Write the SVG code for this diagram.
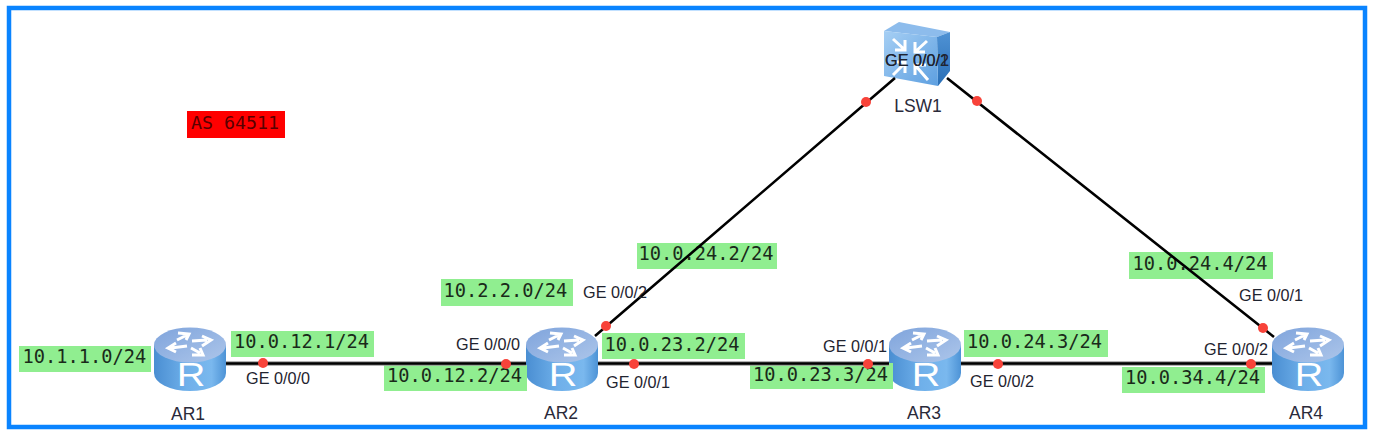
<svg xmlns="http://www.w3.org/2000/svg" width="1376" height="435" viewBox="0 0 1376 435">
<style>
.ip{fill:#90ee90}
.ipt{font-family:"DejaVu Sans Mono",monospace;font-size:18.7px;fill:#1a2a1a;text-anchor:middle}
.port{font-family:"Liberation Sans",Arial,sans-serif;font-size:16.2px;fill:#1f2430;text-anchor:middle}
.name{font-family:"Liberation Sans",Arial,sans-serif;font-size:17.5px;fill:#2a2a3a;text-anchor:middle}
.rl{font-family:"Liberation Sans",Arial,sans-serif;font-size:33px;fill:#fff;text-anchor:middle}
.link{stroke:#000;stroke-width:2.6;fill:none}
.halo{stroke:#999;stroke-width:4.6;fill:none}
.dot{fill:#f8433a}
.ar{fill:none;stroke:#fff;stroke-width:3;stroke-linejoin:miter}
</style>
<defs>
<linearGradient id="side" x1="0" x2="1" y1="0" y2="0"><stop offset="0" stop-color="#4a8ed2"/><stop offset=".45" stop-color="#6fb0ea"/><stop offset=".8" stop-color="#7ab8ee"/><stop offset="1" stop-color="#4d93d6"/></linearGradient>
<linearGradient id="top" x1="0" x2="1" y1="0" y2="1"><stop offset="0" stop-color="#7fa4dc"/><stop offset="1" stop-color="#adc6ea"/></linearGradient>
<linearGradient id="front" x1="0" x2="1" y1="0" y2="1"><stop offset="0" stop-color="#a6cff4"/><stop offset="1" stop-color="#5d9fe0"/></linearGradient>
<linearGradient id="sw" x1="0" x2="0" y1="0" y2="1"><stop offset="0" stop-color="#4f92d4"/><stop offset="1" stop-color="#2a6fb6"/></linearGradient>
<g id="router">
<path d="M0 18V46A36 18 0 0 0 72 46V18Z" fill="url(#side)"/>
<ellipse cx="36" cy="18" rx="36" ry="17.500" fill="url(#top)"/>
<path class="ar" d="M23 13L33 8M24 6L35 7L32 13"/>
<path class="ar" d="M38 14L53 13M48 9L57 13L48 19"/>
<path class="ar" d="M33 19L17 21M22 16L14 21L22 25"/>
<path class="ar" d="M37 21L46 26M38 28L49 28L46 21"/>
</g>
</defs>
<rect x="9" y="8" width="1356" height="419" fill="#fff" stroke="#0a84ff" stroke-width="4.500"/>
<g id="AR1"><use href="#router" x="154" y="327"/><text class="rl" transform="translate(191 386) scale(1.2 1)">R</text><text class="name" x="188" y="420">AR1</text></g>
<g id="AR2"><use href="#router" x="526" y="327"/><text class="rl" transform="translate(563 386) scale(1.2 1)">R</text><text class="name" x="561" y="419">AR2</text></g>
<g id="AR3"><use href="#router" x="889" y="327"/><text class="rl" transform="translate(926 386) scale(1.2 1)">R</text><text class="name" x="924" y="419">AR3</text></g>
<g id="AR4"><use href="#router" x="1272" y="327"/><text class="rl" transform="translate(1309 386) scale(1.2 1)">R</text><text class="name" x="1306" y="419">AR4</text></g>
<g id="LSW1">
<path d="M884 31L899 22L950 32L937 37Z" fill="#8dbcec"/>
<path d="M937 37L950 32V71L938 86Z" fill="url(#sw)"/>
<path d="M884 31L937 37L938 86L884 76Z" fill="url(#front)"/>
<path class="ar" d="M893 39L905 50M905 40V50H895"/>
<path class="ar" d="M927 41L915 52M915 42V52H925"/>
<path class="ar" d="M893 75L905 63M895 62H905V73"/>
<path class="ar" d="M928 80L915 65M915 75V65H926"/>
<text class="name" x="918" y="112">LSW1</text>
</g>
<g id="labels">
<g id="as"><rect x="187" y="111" width="98" height="27" fill="#ff0000"/><text x="235" y="129" font-family="'DejaVu Sans Mono',monospace" font-size="18.300" fill="#5a0000" text-anchor="middle">AS 64511</text></g>
<rect class="ip" x="19" y="346" width="132" height="26"/><text class="ipt" x="84.500" y="363">10.1.1.0/24</text>
<rect class="ip" x="231" y="331" width="143" height="26"/><text class="ipt" x="301.500" y="348">10.0.12.1/24</text>
<rect class="ip" x="384" y="365" width="143" height="26"/><text class="ipt" x="454.500" y="382">10.0.12.2/24</text>
<rect class="ip" x="441" y="279" width="132" height="27"/><text class="ipt" x="505.500" y="297">10.2.2.0/24</text>
<rect class="ip" x="602" y="333" width="143" height="26"/><text class="ipt" x="672" y="351">10.0.23.2/24</text>
<rect class="ip" x="750" y="363" width="143" height="26"/><text class="ipt" x="820.500" y="381">10.0.23.3/24</text>
<rect class="ip" x="964" y="330" width="144" height="27"/><text class="ipt" x="1034.500" y="348">10.0.24.3/24</text>
<rect class="ip" x="1122" y="367" width="143" height="26"/><text class="ipt" x="1192.500" y="384">10.0.34.4/24</text>
<rect class="ip" x="1129" y="252" width="144" height="27"/><text class="ipt" x="1200" y="270">10.0.24.4/24</text>
<rect class="ip" x="637" y="243" width="140" height="26"/><text class="ipt" x="706" y="260">10.0.24.2/24</text>
</g>
<g id="connectors">
<path class="halo" d="M226 363.500H526M598 363.500H889M961 363.500H1272"/>
<path class="link" d="M226 363.500H526M598 363.500H889M961 363.500H1272M595 336L895 78M947 78L1274 337"/>
<circle class="dot" cx="263" cy="363" r="5"/><circle class="dot" cx="506" cy="364" r="5"/>
<circle class="dot" cx="634" cy="364" r="5"/><circle class="dot" cx="868" cy="364" r="5"/>
<circle class="dot" cx="998" cy="364" r="5"/><circle class="dot" cx="1251" cy="364" r="5"/>
<circle class="dot" cx="606" cy="326" r="5"/><circle class="dot" cx="866" cy="102" r="5"/>
<circle class="dot" cx="977" cy="101" r="5"/><circle class="dot" cx="1263" cy="328" r="5"/>
</g>
<g id="ports">
<text class="port" x="278" y="384">GE 0/0/0</text>
<text class="port" x="488" y="350">GE 0/0/0</text>
<text class="port" x="615" y="298">GE 0/0/2</text>
<text class="port" x="638" y="388">GE 0/0/1</text>
<text class="port" x="855" y="352">GE 0/0/1</text>
<text class="port" x="1002" y="387">GE 0/0/2</text>
<text class="port" x="1236" y="355">GE 0/0/2</text>
<text class="port" x="1271" y="301">GE 0/0/1</text>
<text class="port" x="917" y="66">GE 0/0/1</text>
<text class="port" x="917" y="66">GE 0/0/2</text>
</g>
</svg>
